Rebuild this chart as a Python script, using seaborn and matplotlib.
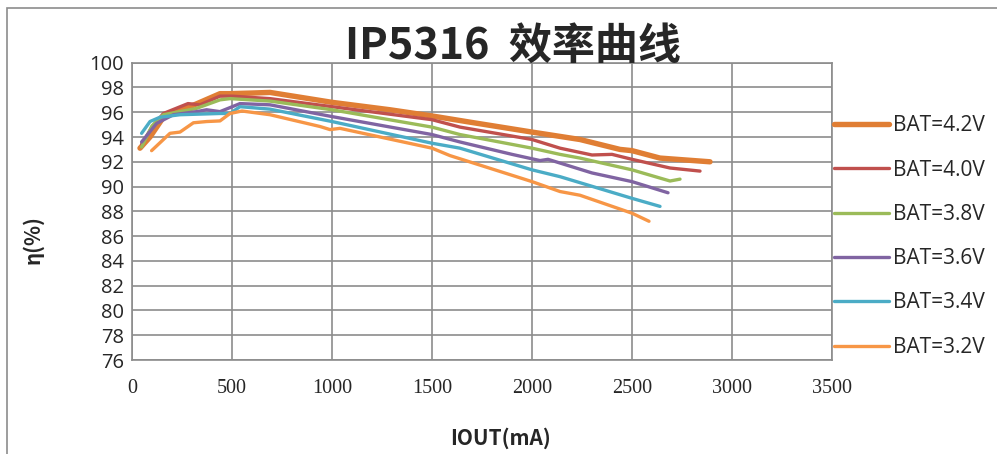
import pandas as pd
import matplotlib
matplotlib.use("Agg")
import matplotlib.pyplot as plt
import seaborn as sns
from matplotlib.patches import Rectangle

# 各电池电压下的效率曲线 (IOUT mA, 效率 %)
labels = ['BAT=4.2V', 'BAT=4.0V', 'BAT=3.8V', 'BAT=3.6V', 'BAT=3.4V', 'BAT=3.2V']

iout_42 = [40, 90, 157, 290, 440, 490, 600, 690, 1000, 1290, 1500, 1690, 2000, 2240, 2440, 2500, 2640, 2890]
eff_42 = [93.1, 94.0, 95.6, 96.45, 97.5, 97.5, 97.55, 97.6, 96.8, 96.2, 95.7, 95.2, 94.4, 93.8, 93.0, 92.9, 92.3, 92.0]

iout_40 = [48, 100, 157, 280, 340, 440, 500, 690, 1000, 1500, 1640, 2000, 2140, 2300, 2400, 2500, 2690, 2840]
eff_40 = [93.4, 94.8, 95.9, 96.7, 96.6, 97.3, 97.3, 97.1, 96.45, 95.4, 94.8, 93.8, 93.1, 92.55, 92.6, 92.2, 91.5, 91.25]

iout_38 = [48, 100, 157, 320, 440, 490, 690, 1000, 1500, 1640, 2000, 2140, 2240, 2500, 2690, 2740]
eff_38 = [93.2, 94.9, 95.8, 96.3, 97.0, 97.1, 96.9, 96.2, 94.8, 94.2, 93.1, 92.6, 92.3, 91.35, 90.45, 90.6]

iout_36 = [48, 123, 207, 323, 373, 440, 540, 690, 1000, 1500, 1640, 1900, 2040, 2080, 2140, 2300, 2500, 2680]
eff_36 = [93.6, 95.1, 95.8, 96.05, 96.2, 96.05, 96.7, 96.6, 95.65, 94.2, 93.6, 92.6, 92.1, 92.2, 91.9, 91.1, 90.4, 89.5]

iout_34 = [48, 90, 140, 240, 440, 490, 540, 690, 1000, 1500, 1640, 2000, 2140, 2500, 2640]
eff_34 = [94.3, 95.25, 95.6, 95.8, 95.9, 95.9, 96.45, 96.25, 95.25, 93.5, 93.1, 91.35, 90.8, 89.05, 88.4]

iout_32 = [98, 190, 240, 307, 373, 440, 490, 550, 690, 940, 990, 1040, 1500, 1590, 2000, 2140, 2240, 2500, 2585]
eff_32 = [92.9, 94.3, 94.4, 95.15, 95.25, 95.3, 95.9, 96.1, 95.8, 94.85, 94.6, 94.7, 93.1, 92.5, 90.4, 89.6, 89.3, 87.85, 87.2]

x_ticks = [0, 500, 1000, 1500, 2000, 2500, 3000, 3500]
y_ticks = list(range(76, 101, 2))

colors = ['#E07E34', '#C0504D', '#9BBB59', '#8064A2', '#4BACC6', '#F79646']
widths = [3.9, 2.4, 2.4, 2.4, 2.4, 2.4]

series = [(iout_42, eff_42), (iout_40, eff_40), (iout_38, eff_38),
          (iout_36, eff_36), (iout_34, eff_34), (iout_32, eff_32)]
frames = []
for lab, (xs, ys) in zip(labels, series):
    frames.append(pd.DataFrame({'IOUT': xs, 'eff': ys, 'BAT': lab}))
df = pd.concat(frames, ignore_index=True)

sns.set_style("white")
plt.rcParams['font.family'] = ['Noto Sans CJK SC', 'DejaVu Sans']

fig = plt.figure(figsize=(9.97, 4.54), dpi=100)
ax = fig.add_axes([132 / 997, 1 - 360 / 454, 700 / 997, (360 - 62.7) / 454])

for lab, col, lw in zip(labels, colors, widths):
    sub = df[df['BAT'] == lab]
    sns.lineplot(data=sub, x='IOUT', y='eff', color=col, linewidth=lw, label=lab,
                 ax=ax, solid_capstyle='round', sort=False)

ax.set_xlim(0, 3500)
ax.set_ylim(76, 100)
ax.set_xticks(x_ticks)
ax.set_yticks(y_ticks)
ax.tick_params(axis='both', length=0, pad=6)
ax.tick_params(axis='x', pad=14, labelsize=14.5, labelfontfamily='Liberation Serif')
ax.tick_params(axis='y', labelsize=14.5, labelfontfamily='Open Sans')
ax.grid(True, color='#8c8c8c', linewidth=1.2)
for sp in ax.spines.values():
    sp.set_color('#8c8c8c')
    sp.set_linewidth(1.2)
ax.set_xlabel('')
ax.set_ylabel('')

fig.text(33 / 997, 1 - 240 / 454, 'η(%)', rotation=90, ha='center', va='center',
         fontsize=15, fontweight='bold')
fig.text(500 / 997, 1 - 438 / 454, 'IOUT(mA)', ha='center', va='center',
         fontsize=15, fontweight='bold')
fig.text(513 / 997, 1 - 46 / 454, 'IP5316  效率曲线', ha='center', va='center',
         fontsize=31, fontweight='bold')

leg = ax.legend(loc='center left', bbox_to_anchor=(834 / 997, 1 - 236.5 / 454),
                bbox_transform=fig.transFigure, frameon=False, fontsize=15,
                handlelength=2.65, handletextpad=0.2, labelspacing=1.12, borderpad=0,
                borderaxespad=0)
for t in leg.get_texts():
    t.set_family('Open Sans')

# 外框
fig.patches.append(Rectangle((7 / 997, -0.1), 1.2, 1 - 8 / 454 + 0.1, transform=fig.transFigure,
                             fill=False, edgecolor='#8c8c8c', linewidth=1.2))

plt.savefig('out.png', dpi=100)
plt.close()
